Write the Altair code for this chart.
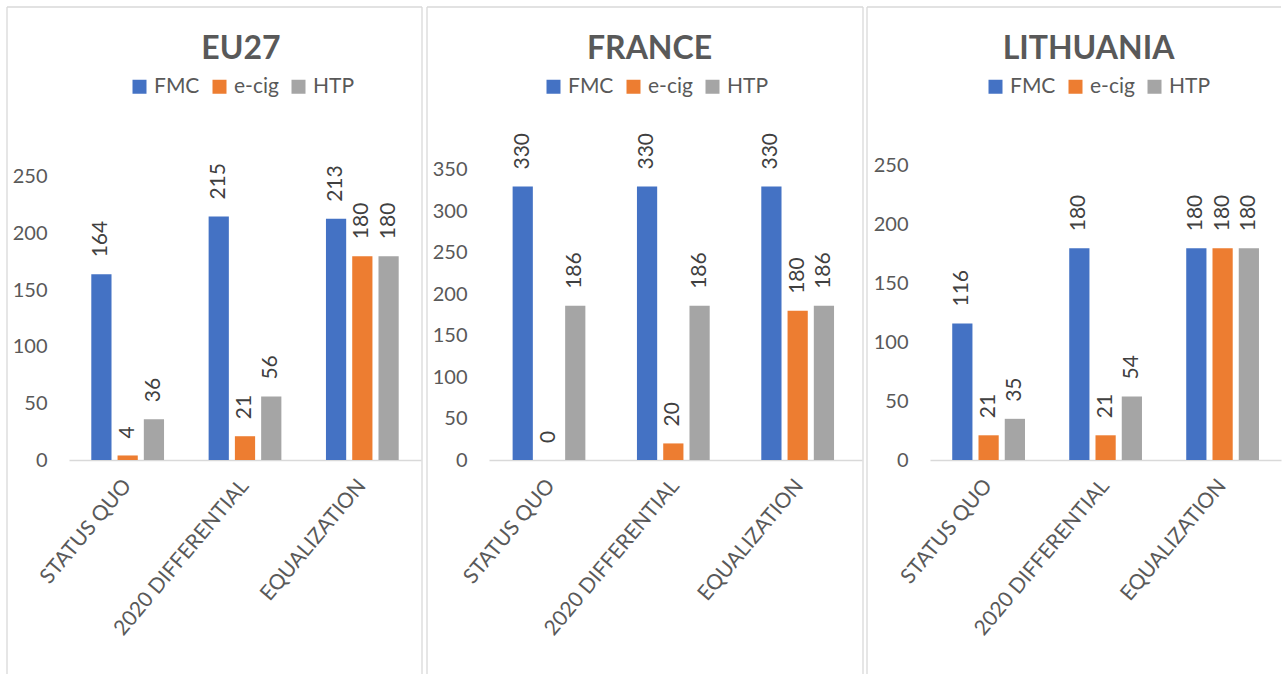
import altair as alt
import pandas as pd

# Scenarios on the x axis and the three product series
scenarios = ["STATUS QUO", "2020 DIFFERENTIAL", "EQUALIZATION"]
products = ["FMC", "e-cig", "HTP"]
product_colors = ["#4472C4", "#ED7D31", "#A5A5A5"]

# EU27
eu27_fmc = [164, 215, 213]
eu27_ecig = [4, 21, 180]
eu27_htp = [36, 56, 180]

# France
france_fmc = [330, 330, 330]
france_ecig = [0, 20, 180]
france_htp = [186, 186, 186]

# Lithuania
lith_fmc = [116, 180, 180]
lith_ecig = [21, 21, 180]
lith_htp = [35, 54, 180]

# Y-axis tick labels
eu27_ticks = [0, 50, 100, 150, 200, 250]
france_ticks = [0, 50, 100, 150, 200, 250, 300, 350]
lith_ticks = [0, 50, 100, 150, 200, 250]

FONT = "Lato"
TEXT = "#595959"
LABEL = "#404040"
BORDER = "#D9D9D9"
PLOT_H = 300
TOP_EDGE = -153
BOTTOM_EDGE = 514


def to_frame(series):
    rows = []
    for prod, vals in zip(products, series):
        for sc, v in zip(scenarios, vals):
            rows.append({"scenario": sc, "product": prod, "value": v})
    return pd.DataFrame(rows)


def panel(name, series, ticks, y_max, width, legend_x, title_dx, left, right):
    df = to_frame(series)
    base = alt.Chart(df).encode(
        x=alt.X(
            "scenario:N",
            sort=scenarios,
            scale=alt.Scale(paddingInner=0.38, paddingOuter=0.19),
            axis=alt.Axis(
                title=None, labelAngle=-50, labelAlign="right", labelBaseline="middle",
                labelPadding=22, labelFontSize=21, labelColor=TEXT, labelFont=FONT,
                ticks=False, domainColor=BORDER, domainWidth=1.3, labelLimit=0,
            ),
        ),
        xOffset=alt.XOffset(
            "product:N", sort=products,
            scale=alt.Scale(domain=products, paddingInner=0.23, paddingOuter=0),
        ),
        y=alt.Y(
            "value:Q",
            scale=alt.Scale(domain=[0, y_max], nice=False, zero=True),
            axis=alt.Axis(
                title=None, values=ticks, domain=False, ticks=False, grid=False,
                labelPadding=22, labelFontSize=20, labelColor=TEXT, labelFont=FONT,
            ),
        ),
    )
    bars = base.mark_bar().encode(
        color=alt.Color(
            "product:N", sort=products,
            scale=alt.Scale(domain=products, range=product_colors),
            legend=alt.Legend(
                title=None, orient="none", legendX=legend_x, legendY=-84,
                direction="horizontal", symbolType="square", symbolSize=196,
                symbolStrokeWidth=0, labelFontSize=21, labelFont=FONT,
                labelColor=TEXT, labelOffset=4, columnPadding=9,
            ),
        )
    )
    labels = base.mark_text(
        angle=270, align="left", baseline="middle", dx=17,
        fontSize=21, font=FONT, color=LABEL,
    ).encode(text="value:Q")

    # Light frame around each panel
    edge = alt.Chart(pd.DataFrame({"k": [0]}))
    rule = dict(color=BORDER, strokeWidth=1.3)
    frame_layers = [
        edge.mark_rule(**rule).encode(
            x=alt.value(left), y=alt.value(TOP_EDGE), y2=alt.value(BOTTOM_EDGE)),
        edge.mark_rule(**rule).encode(
            x=alt.value(left), x2=alt.value(right if right is not None else width),
            y=alt.value(TOP_EDGE)),
    ]
    if right is not None:
        frame_layers.append(edge.mark_rule(**rule).encode(
            x=alt.value(right), y=alt.value(TOP_EDGE), y2=alt.value(BOTTOM_EDGE)))

    return alt.layer(*frame_layers, bars, labels).properties(
        width=width,
        height=PLOT_H,
        title=alt.TitleParams(
            name, font=FONT, fontSize=32, fontWeight="bold", color=TEXT,
            anchor="middle", frame="group", baseline="alphabetic",
            offset=-85, dx=title_dx,
        ),
    )


p1 = panel("EU27", [eu27_fmc, eu27_ecig, eu27_htp], eu27_ticks, 265, 352, 60, -4, -62, 353)
p2 = panel("FRANCE", [france_fmc, france_ecig, france_htp], france_ticks, 362, 373, 54, -26, -62, 374)
p3 = panel("LITHUANIA", [lith_fmc, lith_ecig, lith_htp], lith_ticks, 255, 351, 55, -17, -63, None)

chart = (
    alt.hconcat(p1, p2, p3, spacing=68, bounds="flush")
    .resolve_scale(color="independent", x="independent", y="independent")
    .resolve_legend(color="independent")
    .properties(padding={"left": 6, "top": 6, "right": 0, "bottom": 0}, background="white")
    .configure_view(stroke=None)
)

chart.save("out.html", embed_options={"renderer": "svg", "actions": False})
